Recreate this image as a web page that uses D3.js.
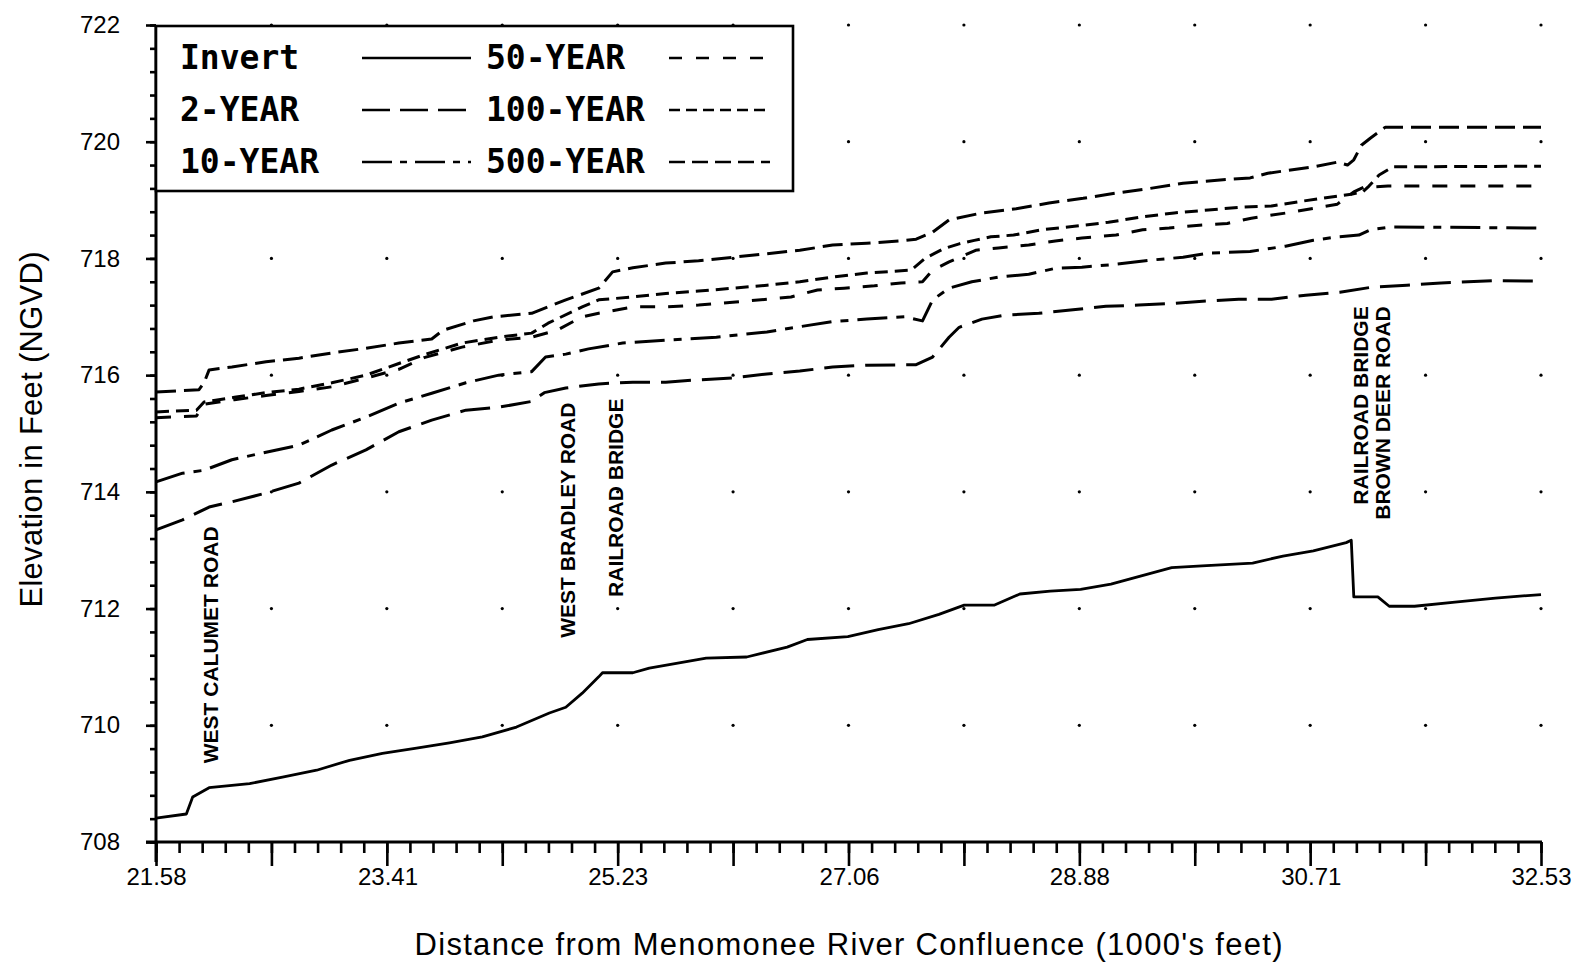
<!DOCTYPE html>
<html><head><meta charset="utf-8">
<script src="https://cdn.jsdelivr.net/npm/d3@7"></script>
<style>body{margin:0;background:#fff}svg{display:block}</style>
</head><body><svg id="chart" width="1585" height="964"></svg>
<script>
// ---------- data ----------
const xTickLabels = ["21.58","23.41","25.23","27.06","28.88","30.71","32.53"];
const yTickLabels = [708,710,712,714,716,718,720,722];
const seriesNames = ["Invert","2-YEAR","10-YEAR","50-YEAR","100-YEAR","500-YEAR"];

const invert = [[21.58,708.41],[21.82,708.48],[21.87,708.77],[22.0,708.93],[22.32,709.0],[22.58,709.11],[22.85,709.23],[23.11,709.4],[23.37,709.52],[23.64,709.61],[23.9,709.7],[24.16,709.8],[24.43,709.97],[24.69,710.21],[24.82,710.31],[24.95,710.55],[25.08,710.83],[25.11,710.9],[25.35,710.9],[25.48,710.98],[25.93,711.15],[26.25,711.17],[26.57,711.34],[26.73,711.47],[27.05,711.52],[27.29,711.64],[27.53,711.74],[27.77,711.9],[27.97,712.06],[28.21,712.06],[28.41,712.25],[28.65,712.3],[28.89,712.33],[29.13,712.42],[29.37,712.56],[29.61,712.7],[29.85,712.73],[30.25,712.78],[30.49,712.9],[30.73,712.99],[30.99,713.13],[31.03,713.17],[31.05,712.2],[31.24,712.2],[31.33,712.04],[31.53,712.04],[31.85,712.11],[32.17,712.18],[32.53,712.24]];

const year2 = [[21.58,713.35],[21.79,713.52],[22.0,713.74],[22.18,713.83],[22.45,713.98],[22.71,714.15],[22.97,714.46],[23.24,714.72],[23.5,715.03],[23.76,715.23],[24.03,715.4],[24.29,715.45],[24.55,715.55],[24.65,715.7],[24.82,715.78],[25.08,715.85],[25.35,715.88],[25.61,715.88],[25.87,715.92],[26.14,715.95],[26.41,716.02],[26.67,716.07],[26.93,716.14],[27.2,716.17],[27.59,716.18],[27.72,716.31],[27.85,716.65],[27.93,716.82],[28.11,716.96],[28.3,717.03],[28.56,717.06],[28.83,717.12],[29.09,717.18],[29.35,717.2],[29.62,717.23],[29.88,717.27],[30.14,717.3],[30.4,717.3],[30.67,717.37],[30.94,717.42],[31.2,717.51],[31.47,717.54],[31.74,717.58],[32.15,717.62],[32.53,717.61]];

const year10 = [[21.58,714.17],[21.79,714.32],[21.96,714.37],[22.18,714.55],[22.45,714.68],[22.71,714.8],[22.97,715.06],[23.24,715.28],[23.5,715.52],[23.76,715.69],[24.03,715.87],[24.29,716.0],[24.55,716.06],[24.66,716.31],[24.82,716.36],[25.0,716.45],[25.27,716.55],[25.61,716.6],[26.01,716.65],[26.41,716.74],[26.67,716.83],[26.93,716.92],[27.2,716.96],[27.5,717.0],[27.64,716.93],[27.72,717.29],[27.85,717.49],[28.03,717.6],[28.24,717.68],[28.48,717.73],[28.69,717.83],[28.9,717.85],[29.17,717.9],[29.44,717.97],[29.7,718.02],[29.9,718.09],[30.23,718.12],[30.51,718.21],[30.73,718.31],[30.92,718.37],[31.09,718.4],[31.18,718.49],[31.35,718.54],[32.53,718.52]];

const year50 = [[21.58,715.27],[21.9,715.3],[21.96,715.5],[22.2,715.58],[22.45,715.65],[22.71,715.72],[22.97,715.8],[23.24,715.95],[23.5,716.1],[23.7,716.3],[24.0,716.48],[24.29,716.6],[24.55,716.65],[24.75,716.77],[24.95,717.0],[25.08,717.06],[25.35,717.17],[25.61,717.17],[25.87,717.2],[26.14,717.25],[26.41,717.3],[26.6,717.34],[26.81,717.46],[27.02,717.49],[27.26,717.53],[27.47,717.58],[27.64,717.6],[27.72,717.8],[27.85,717.94],[28.06,718.14],[28.24,718.18],[28.48,718.23],[28.69,718.3],[28.9,718.35],[29.17,718.4],[29.38,718.49],[29.59,718.52],[29.83,718.57],[30.05,718.6],[30.24,718.69],[30.52,718.78],[30.92,718.93],[31.05,719.14],[31.13,719.22],[31.32,719.24],[32.53,719.24]];

const year100 = [[21.58,715.37],[21.9,715.4],[21.96,715.54],[22.2,715.62],[22.45,715.7],[22.71,715.76],[22.97,715.87],[23.24,716.0],[23.5,716.2],[23.7,716.35],[24.0,716.55],[24.29,716.65],[24.55,716.72],[24.68,716.89],[24.95,717.17],[25.08,717.29],[25.35,717.34],[25.61,717.4],[25.87,717.44],[26.14,717.49],[26.41,717.54],[26.67,717.6],[26.93,717.68],[27.2,717.75],[27.55,717.8],[27.66,718.0],[27.8,718.16],[27.93,718.25],[28.05,718.31],[28.18,718.37],[28.36,718.4],[28.58,718.49],[28.84,718.55],[29.11,718.62],[29.37,718.71],[29.63,718.78],[29.9,718.83],[30.16,718.88],[30.4,718.9],[30.76,719.02],[31.03,719.1],[31.12,719.14],[31.17,719.24],[31.25,719.43],[31.36,719.57],[32.53,719.58]];

const year500 = [[21.58,715.71],[21.92,715.75],[21.96,715.87],[22.0,716.09],[22.18,716.14],[22.45,716.23],[22.71,716.29],[22.97,716.38],[23.24,716.46],[23.5,716.55],[23.76,716.62],[23.85,716.77],[24.09,716.93],[24.25,717.0],[24.55,717.06],[24.82,717.29],[25.08,717.49],[25.19,717.77],[25.35,717.84],[25.61,717.92],[25.87,717.96],[26.14,718.02],[26.41,718.08],[26.67,718.14],[26.93,718.23],[27.2,718.26],[27.46,718.3],[27.59,718.33],[27.72,718.45],[27.85,718.66],[28.11,718.78],[28.38,718.85],[28.64,718.95],[28.91,719.03],[29.17,719.12],[29.44,719.2],[29.7,719.29],[29.97,719.34],[30.23,719.38],[30.37,719.46],[30.73,719.57],[30.92,719.65],[31.0,719.6],[31.05,719.69],[31.11,719.94],[31.18,720.06],[31.3,720.25],[32.53,720.25]];

const seriesData = [invert, year2, year10, year50, year100, year500];

const annotationTexts = ["WEST CALUMET ROAD","WEST BRADLEY ROAD","RAILROAD BRIDGE","RAILROAD BRIDGE","BROWN DEER ROAD"];
const annotationX = [22.07, 24.89, 25.27, 31.16, 31.34];
const annotationY = [709.35, 711.5, 712.2, 717.18, 717.18];

// ---------- styles ----------
const dashStyles = {
  "Invert": null,
  "2-YEAR": "30,11",
  "10-YEAR": "30,9,8,9",
  "50-YEAR": "15,13",
  "100-YEAR": "13,7",
  "500-YEAR": "20,8"
};
const legendDash = {
  "Invert": null,
  "2-YEAR": "28,10",
  "10-YEAR": "30,8,7,8",
  "50-YEAR": "13,14",
  "100-YEAR": "11,6",
  "500-YEAR": "16,7"
};

const svg = d3.select("#chart");
const x = d3.scaleLinear().domain([21.58, 32.53]).range([156, 1541]);
const y = d3.scaleLinear().domain([708, 722]).range([842, 25]);

// grid dots
const dotX = d3.range(1, 13).map(i => 21.58 + i * 0.9125);
const dotY = yTickLabels.filter(v => v > 708);
const dots = [];
dotX.forEach(a => dotY.forEach(b => dots.push([a, b])));
svg.append("g").selectAll("circle").data(dots).join("circle")
  .attr("cx", d => x(d[0])).attr("cy", d => y(d[1])).attr("r", 1.6).attr("fill", "#000");

// series lines
const line = d3.line().x(d => x(d[0])).y(d => y(d[1]));
svg.append("g").selectAll("path").data(seriesData).join("path")
  .attr("d", line)
  .attr("fill", "none").attr("stroke", "#000")
  .attr("stroke-width", (d, i) => i === 0 ? 2.8 : 3)
  .attr("stroke-linejoin", "round")
  .attr("stroke-dasharray", (d, i) => dashStyles[seriesNames[i]]);

// X axis
const xMinor = d3.range(61).map(i => 21.58 + i * 0.1825);
const xLong = d3.range(13).map(i => 21.58 + i * 0.9125);
const xLab = xTickLabels.map(Number);
const gx = svg.append("g").attr("transform", `translate(0,${y(708)})`);
gx.append("g").call(d3.axisBottom(x).tickValues(xMinor).tickSize(11).tickSizeOuter(0).tickFormat(""));
gx.append("g").call(d3.axisBottom(x).tickValues(xLong).tickSize(24).tickSizeOuter(0).tickFormat(""));
gx.append("g").call(d3.axisBottom(x).tickValues(xLab).tickSize(0).tickSizeOuter(0).tickPadding(26)
  .tickFormat((d, i) => xTickLabels[i]));
gx.selectAll(".domain").remove();
gx.selectAll(".tick line").attr("stroke-width", 2.6);
gx.selectAll(".tick text").attr("font-family", "Liberation Sans, Arial, sans-serif").attr("font-size", 24).attr("fill", "#000");

// Y axis
const yMinor = d3.range(36).map(i => 708 + i * 0.4);
const gy = svg.append("g").attr("transform", `translate(${x(21.58)},0)`);
gy.append("g").call(d3.axisLeft(y).tickValues(yMinor).tickSize(6).tickSizeOuter(0).tickFormat(""));
gy.append("g").call(d3.axisLeft(y).tickValues(yTickLabels).tickSize(10).tickSizeOuter(0).tickPadding(26).tickFormat(d3.format("d")));
gy.selectAll(".domain").remove();
gy.selectAll(".tick line").attr("stroke-width", 2.6);
gy.selectAll(".tick text").attr("font-family", "Liberation Sans, Arial, sans-serif").attr("font-size", 24).attr("fill", "#000");

// axis lines
svg.append("line").attr("x1", x(21.58) - 10).attr("x2", x(32.53) + 1)
  .attr("y1", y(708)).attr("y2", y(708)).attr("stroke", "#000").attr("stroke-width", 3);
svg.append("line").attr("x1", x(21.58)).attr("x2", x(21.58))
  .attr("y1", y(722)).attr("y2", y(708) + 20).attr("stroke", "#000").attr("stroke-width", 3);

// annotations
svg.append("g").selectAll("text").data(annotationTexts).join("text")
  .attr("transform", (d, i) => `translate(${x(annotationX[i])},${y(annotationY[i])}) rotate(-90)`)
  .attr("text-anchor", (d, i) => i >= 3 ? "end" : "start")
  .attr("font-family", "Liberation Sans, Arial, sans-serif").attr("font-weight", "bold")
  .attr("font-size", 21).text(d => d);

// axis titles
svg.append("text").attr("x", (x(21.58) + x(32.53)) / 2).attr("y", 955)
  .attr("text-anchor", "middle").attr("font-family", "Liberation Sans, Arial, sans-serif")
  .attr("font-size", 31).attr("textLength", 868).attr("lengthAdjust", "spacing")
  .text("Distance from Menomonee River Confluence (1000's feet)");
svg.append("text").attr("transform", `translate(42,${(y(708) + y(722)) / 2 - 4}) rotate(-90)`)
  .attr("text-anchor", "middle").attr("font-family", "Liberation Sans, Arial, sans-serif")
  .attr("font-size", 31).attr("textLength", 356).attr("lengthAdjust", "spacing")
  .text("Elevation in Feet (NGVD)");

// legend
const lg = svg.append("g");
lg.append("rect").attr("x", x(21.58)).attr("y", 26).attr("width", 793 - x(21.58)).attr("height", 165)
  .attr("fill", "#fff").attr("stroke", "#000").attr("stroke-width", 2.6);
const rowBase = [69, 121, 173];
const colText = [180, 486];
const colLine = [[362, 471], [669, 770]];
seriesNames.forEach((name, i) => {
  const col = Math.floor(i / 3), row = i % 3;
  lg.append("text").attr("x", colText[col]).attr("y", rowBase[row])
    .attr("font-family", "DejaVu Sans Mono, monospace").attr("font-weight", "bold")
    .attr("font-size", 33).attr("fill", "#000").text(name);
  lg.append("line").attr("x1", colLine[col][0]).attr("x2", colLine[col][1])
    .attr("y1", rowBase[row] - 11).attr("y2", rowBase[row] - 11)
    .attr("stroke", "#000").attr("stroke-width", 2.6)
    .attr("stroke-dasharray", legendDash[name]);
});
</script></body></html>
